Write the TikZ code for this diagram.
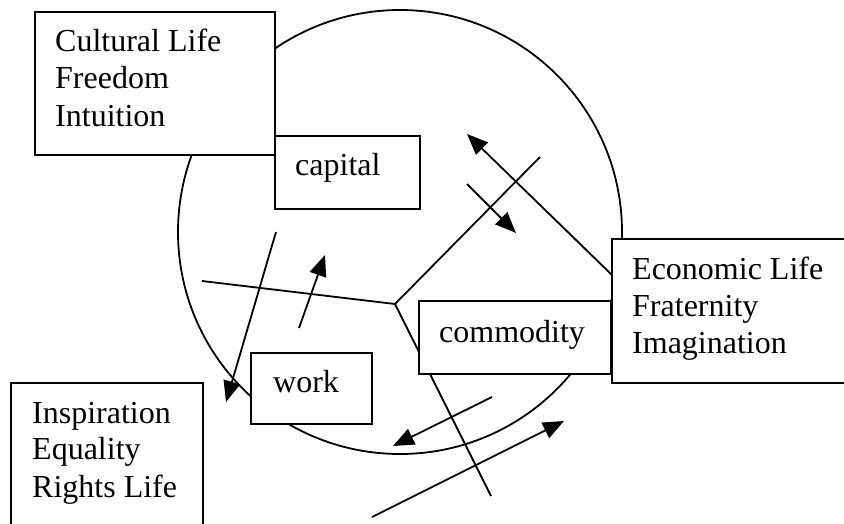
\documentclass[tikz,border=0pt]{standalone}
\usepackage{fontspec}
\setmainfont{Liberation Serif}
\usetikzlibrary{arrows.meta}
\tikzset{
  lw/.style={line width=1.8pt},
  boxnode/.style={draw, lw, fill=white, inner sep=0pt, outer sep=0pt, anchor=north west},
  txt/.style={anchor=base west, inner sep=0pt, font=\fontsize{32}{37.5}\selectfont},
  arr/.style={lw, -{Triangle[length=21pt,width=17pt]}},
  plain/.style={lw}
}
\begin{document}
\begin{tikzpicture}[x=1pt,y=-1pt]
\useasboundingbox (0,0) rectangle (844,523);
\clip (0,0) rectangle (844,523);
\fill[white] (0,0) rectangle (844,523);
% big circle
\node[draw, lw, circle, minimum size=444pt, inner sep=0pt] (sphere) at (400,232) {};
% coordinates
\coordinate (J) at (395,304);
\coordinate (Yl) at (202,281);
\coordinate (Yr) at (540,157);
\coordinate (Yb) at (491,496);
\coordinate (a1s) at (612,275); \coordinate (a1e) at (467,134);
\coordinate (a2s) at (467,184); \coordinate (a2e) at (516,233);
\coordinate (a3s) at (276,232); \coordinate (a3e) at (226,402);
\coordinate (a4s) at (299,328); \coordinate (a4e) at (325,255);
\coordinate (a5s) at (492,397); \coordinate (a5e) at (393,446);
\coordinate (a6s) at (372,517); \coordinate (a6e) at (564,421);
% lines
\draw[plain] (Yl) -- (J) -- (Yr);
\draw[plain] (J) -- (Yb);
% arrows
\draw[arr] (a1s) -- (a1e);
\draw[arr] (a2s) -- (a2e);
\draw[arr] (a3s) -- (a3e);
\draw[arr] (a4s) -- (a4e);
\draw[arr] (a5s) -- (a5e);
\draw[arr] (a6s) -- (a6e);
% boxes
\node[boxnode, minimum width=240pt, minimum height=143pt] (cultural) at (35,12) {};
\node[boxnode, minimum width=145pt, minimum height=73pt] (capital) at (275,136) {};
\node[boxnode, minimum width=260pt, minimum height=144pt] (economic) at (612,239) {};
\node[boxnode, minimum width=192pt, minimum height=73pt] (commodity) at (419,301) {};
\node[boxnode, minimum width=121pt, minimum height=71pt] (work) at (251,353) {};
\node[boxnode, minimum width=192pt, minimum height=160pt] (rights) at (11,383) {};
% texts
\node[txt] (c1) at (55,51) {Cultural Life};
\node[txt] (c2) at (55,88) {Freedom};
\node[txt] (c3) at (55,126) {Intuition};
\node[txt] (cap) at (295,175) {capital};
\node[txt] (e1) at (632,279) {Economic Life};
\node[txt] (e2) at (632,316) {Fraternity};
\node[txt] (e3) at (632,353) {Imagination};
\node[txt] (com) at (439,342) {commodity};
\node[txt] (wk) at (273,392) {work};
\node[txt] (i1) at (32,423) {Inspiration};
\node[txt] (i2) at (32,459) {Equality};
\node[txt] (i3) at (32,497) {Rights Life};
\end{tikzpicture}
\end{document}
